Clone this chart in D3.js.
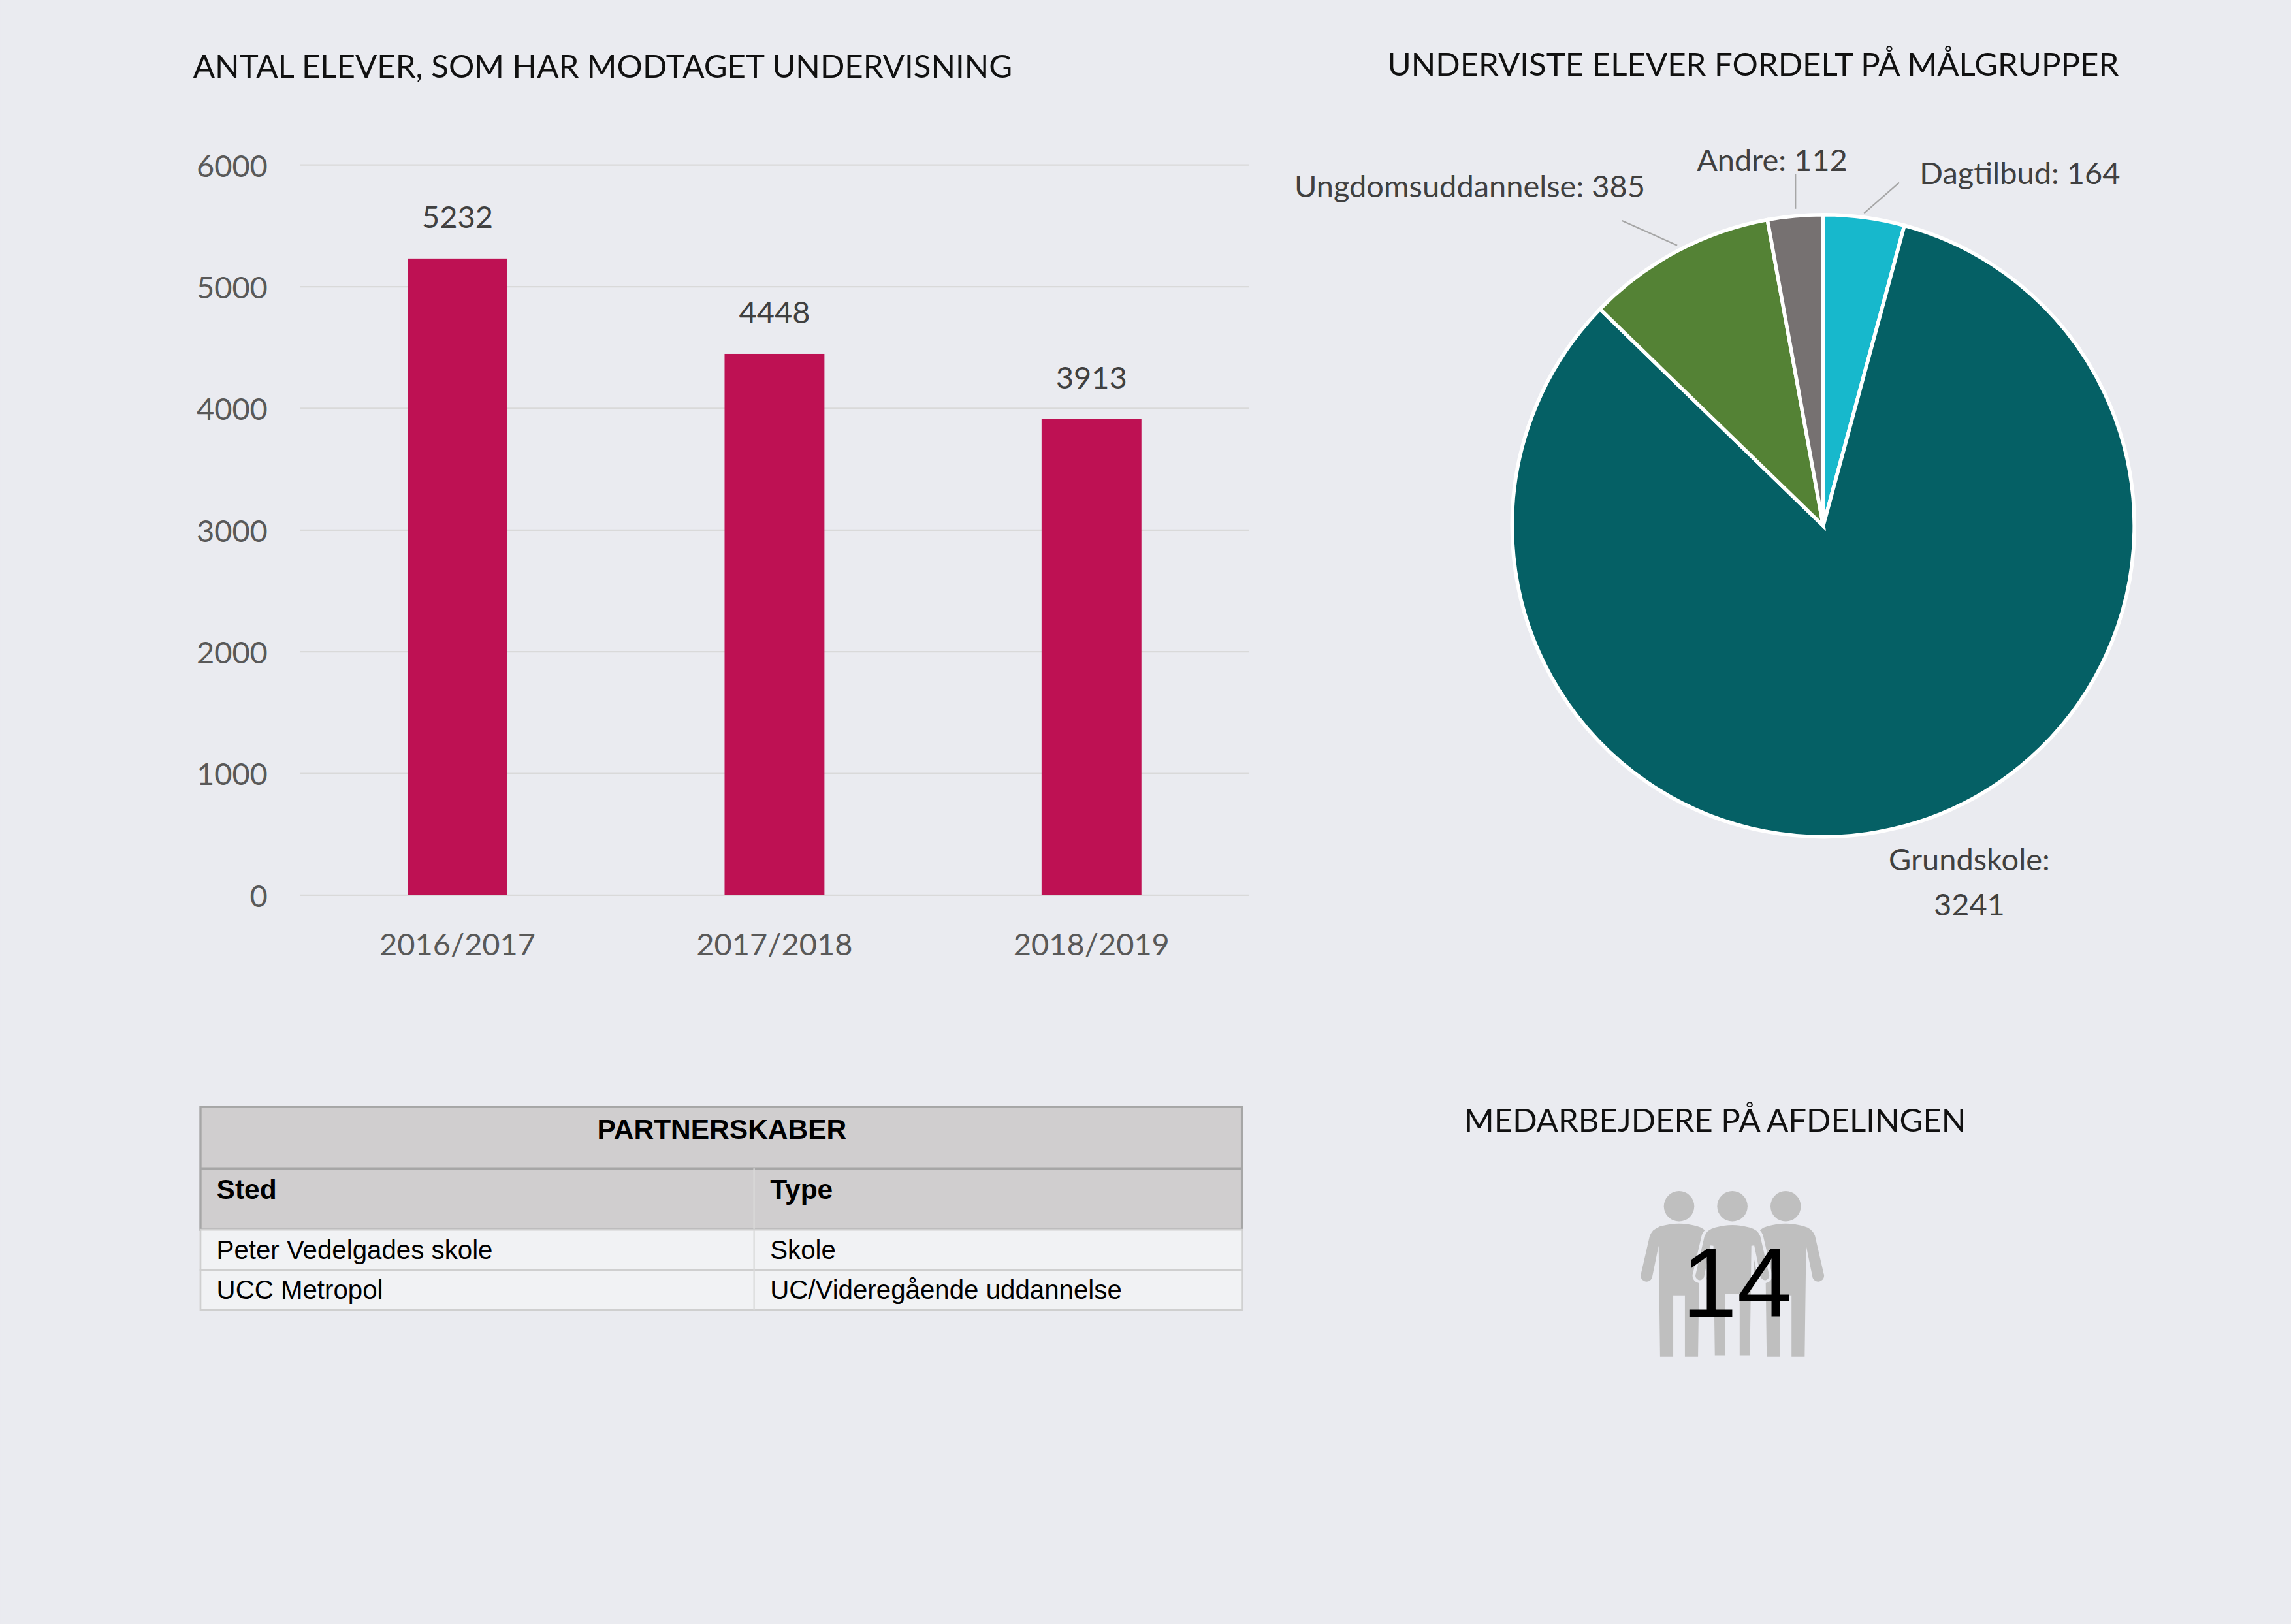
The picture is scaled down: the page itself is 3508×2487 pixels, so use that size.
<!DOCTYPE html>
<html><head><meta charset="utf-8">
<script src="https://cdn.jsdelivr.net/npm/d3@7"></script>
<style>body{margin:0;background:#eaebf0}</style></head>
<body><svg id="c" width="3508" height="2487" viewBox="0 0 1568 1112"></svg>
<script>
const years=["2016/2017","2017/2018","2018/2019"];
const students=[5232,4448,3913];
const yTicks=[0,1000,2000,3000,4000,5000,6000];
const groups=["Dagtilbud","Grundskole","Ungdomsuddannelse","Andre"];
const groupValues=[164,3241,385,112];
const groupColors=["#17b8cc","#056065","#548235","#767171"];
const tableHead=["Sted","Type"];
const tableRows=[["Peter Vedelgades skole","Skole"],["UCC Metropol","UC/Videregående uddannelse"]];
const staff=14;

const svg=d3.select("#c");
svg.append("rect").attr("width",1568).attr("height",1112).attr("fill","#eaebf0");
const F="Lato, 'Open Sans', sans-serif", txt="#404040";

// bar chart
svg.append("text").attr("x",132).attr("y",53).attr("font-family",F).attr("font-size",22).attr("fill","#111").text("ANTAL ELEVER, SOM HAR MODTAGET UNDERVISNING");
const x=d3.scaleBand().domain(years).range([205,855]).paddingInner(0.685).paddingOuter(0.34);
const y=d3.scaleLinear().domain([0,6000]).range([613,113]);
const g=svg.append("g");
g.selectAll("line.g").data(yTicks).join("line").attr("x1",205).attr("x2",855).attr("y1",d=>y(d)).attr("y2",d=>y(d)).attr("stroke","#d9d9d9").attr("stroke-width",1);
g.selectAll("text.t").data(yTicks).join("text").attr("x",183).attr("y",d=>y(d)+8).attr("text-anchor","end").attr("font-family",F).attr("font-size",21).attr("fill","#595959").text(d=>d);
g.selectAll("rect.b").data(students).join("rect").attr("x",(d,i)=>x(years[i])).attr("width",x.bandwidth()).attr("y",d=>y(d)).attr("height",d=>y(0)-y(d)).attr("fill","#be1153");
g.selectAll("text.v").data(students).join("text").attr("x",(d,i)=>x(years[i])+x.bandwidth()/2).attr("y",d=>y(d)-21).attr("text-anchor","middle").attr("font-family",F).attr("font-size",21).attr("fill",txt).text(d=>d);
g.selectAll("text.c").data(years).join("text").attr("x",d=>x(d)+x.bandwidth()/2).attr("y",654).attr("text-anchor","middle").attr("font-family",F).attr("font-size",21).attr("fill","#595959").text(d=>d);

// pie
svg.append("text").attr("x",1200).attr("y",52).attr("text-anchor","middle").attr("font-family",F).attr("font-size",22).attr("fill","#111").text("UNDERVISTE ELEVER FORDELT PÅ MÅLGRUPPER");
const cx=1248,cy=360,R=213;
const pie=d3.pie().sort(null).value(d=>d)(groupValues);
const arc=d3.arc().innerRadius(0).outerRadius(R);
const pg=svg.append("g").attr("transform",`translate(${cx},${cy})`);
pg.selectAll("path").data(pie).join("path").attr("d",arc).attr("fill",(d,i)=>groupColors[i]).attr("stroke","#fff").attr("stroke-width",2.5);
const lbl=[
 {t:`${groups[0]}: ${groupValues[0]}`,x:1314,y:126,a:"start",l:[[1300,125],[1276,146]]},
 {t:`${groups[3]}: ${groupValues[3]}`,x:1213,y:117,a:"middle",l:[[1229,119],[1229,143]]},
 {t:`${groups[2]}: ${groupValues[2]}`,x:1126,y:135,a:"end",l:[[1110,151],[1148,168]]}];
lbl.forEach(o=>{svg.append("text").attr("x",o.x).attr("y",o.y).attr("text-anchor",o.a).attr("font-family",F).attr("font-size",21).attr("fill",txt).text(o.t);
 svg.append("line").attr("x1",o.l[0][0]).attr("y1",o.l[0][1]).attr("x2",o.l[1][0]).attr("y2",o.l[1][1]).attr("stroke","#a6a6a6").attr("stroke-width",1);});
svg.append("text").attr("x",1348).attr("y",596).attr("text-anchor","middle").attr("font-family",F).attr("font-size",21).attr("fill",txt).text(groups[1]+":");
svg.append("text").attr("x",1348).attr("y",627).attr("text-anchor","middle").attr("font-family",F).attr("font-size",21).attr("fill",txt).text(groupValues[1]);

// table
const TF="'Liberation Sans Narrow', 'Arial Narrow', sans-serif";
const tx=137,tw=713,split=516;
svg.append("rect").attr("x",tx).attr("y",758).attr("width",tw).attr("height",84).attr("fill","#d0cecf").attr("stroke","#a6a6a6").attr("stroke-width",1.5);
svg.append("line").attr("x1",tx).attr("x2",tx+tw).attr("y1",800).attr("y2",800).attr("stroke","#a6a6a6").attr("stroke-width",1.5);
svg.append("text").attr("x",494).attr("y",780).attr("text-anchor","middle").attr("font-family",TF).attr("font-weight","bold").attr("font-size",19).attr("fill","#000").text("PARTNERSKABER");
tableHead.forEach((h,i)=>svg.append("text").attr("x",i?527:148).attr("y",821).attr("font-family",TF).attr("font-weight","bold").attr("font-size",19).attr("fill","#000").text(h));
svg.append("line").attr("x1",split).attr("x2",split).attr("y1",800).attr("y2",897).attr("stroke","#d9d9d9");
tableRows.forEach((r,j)=>{const ry=842+j*27.5;
 svg.append("rect").attr("x",tx).attr("y",ry).attr("width",tw).attr("height",27.5).attr("fill","#f1f2f4").attr("stroke","#cfcfcf").attr("stroke-width",1.2);
 r.forEach((c,i)=>svg.append("text").attr("x",i?527:148).attr("y",ry+20).attr("font-family",TF).attr("font-size",18).attr("fill","#000").text(c));});
svg.append("line").attr("x1",split).attr("x2",split).attr("y1",842).attr("y2",897).attr("stroke","#d9d9d9");

// staff
svg.append("text").attr("x",1174).attr("y",775).attr("text-anchor","middle").attr("font-family",F).attr("font-size",22).attr("fill","#111").text("MEDARBEJDERE PÅ AFDELINGEN");
const person="M-12,839.5 Q0,836 12,839.5 Q18,841 20,846 L26,872 A4,4 0 0 1 18.5,875 L14,853 L13,929 L4,929 L4,887 L-4,887 L-4,929 L-13,929 L-14,853 L-18.5,875 A4,4 0 0 1 -26,872 L-20,846 Q-18,841 -12,839.5 Z";
[1149.3,1222.3,1185.8].forEach((px,i)=>{const pp=svg.append("g").attr("transform",`translate(${px},0)`);
 pp.append("path").attr("d",person).attr("fill","#bfbfbf").attr("stroke",i==2?"#eaebf0":"none").attr("stroke-width",2);
 pp.append("circle").attr("cy",826).attr("r",10.4).attr("fill","#bfbfbf");});
svg.append("text").attr("x",1189).attr("y",902).attr("text-anchor","middle").attr("font-family","'Liberation Sans', Arial, sans-serif").attr("font-size",68).attr("fill","#000").text(staff);
</script></body></html>
